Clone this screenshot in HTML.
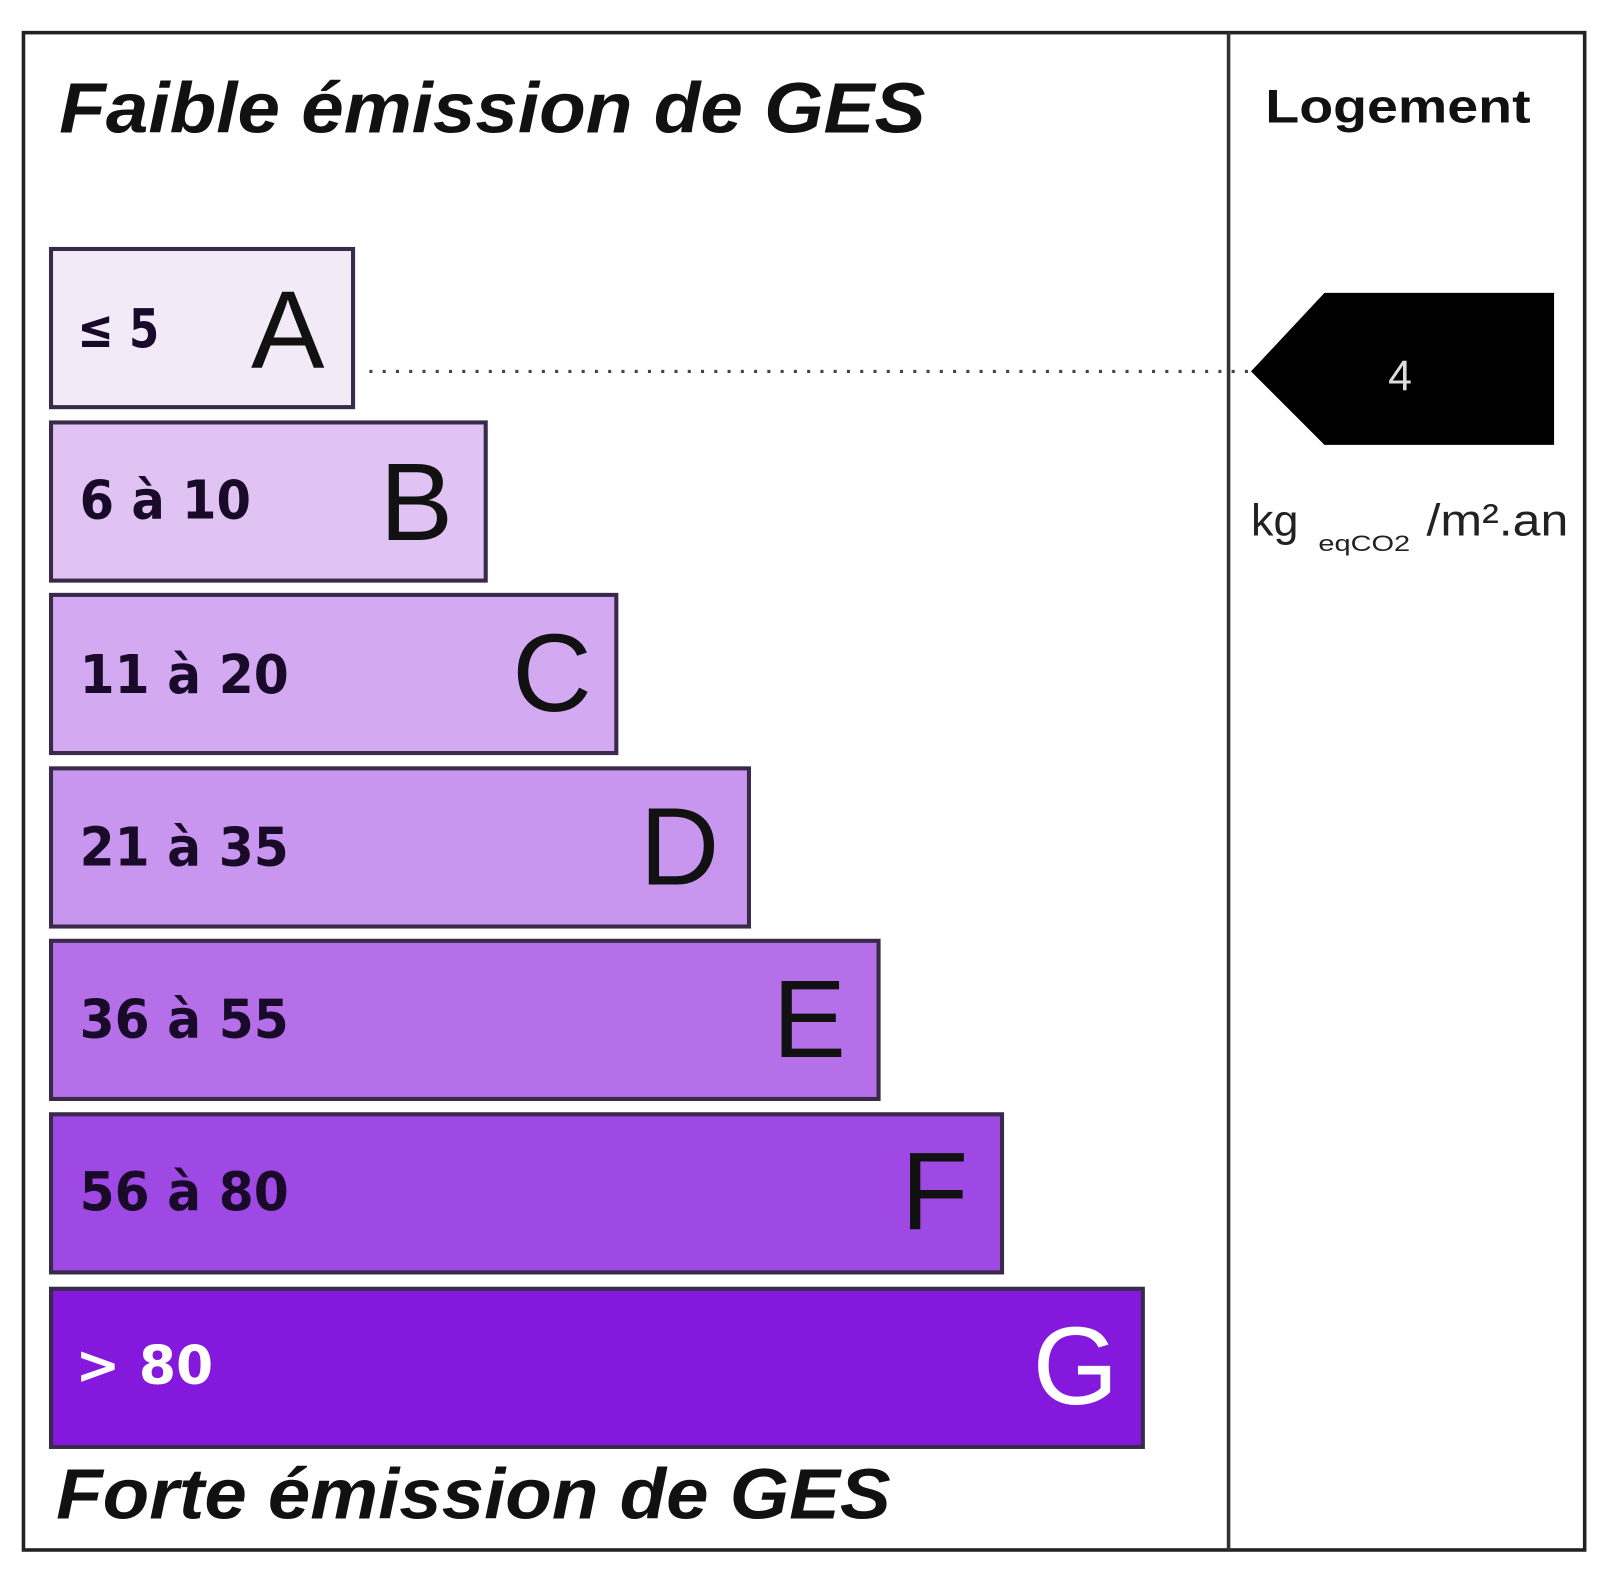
<!DOCTYPE html>
<html><head><meta charset="utf-8"><style>html,body{margin:0;padding:0;background:#fff;}svg{display:block;}</style></head>
<body>
<svg width="1600" height="1589" viewBox="0 0 1600 1589" xmlns="http://www.w3.org/2000/svg">
<rect x="0" y="0" width="1600" height="1589" fill="#fff"/>
<g transform="scale(1.0204)">
<rect x="23" y="32" width="1530" height="1487" fill="none" stroke="#222" stroke-width="3.5"/>
<line x1="1204" y1="32" x2="1204" y2="1519" stroke="#333" stroke-width="3.5"/>
<text x="58" y="130" font-family="Liberation Sans, sans-serif" font-weight="bold" font-style="italic" font-size="70" textLength="849" lengthAdjust="spacingAndGlyphs" fill="#111">Faible émission de GES</text>
<text x="55" y="1488" font-family="Liberation Sans, sans-serif" font-weight="bold" font-style="italic" font-size="70" textLength="818" lengthAdjust="spacingAndGlyphs" fill="#111">Forte émission de GES</text>
<text x="1240" y="120" font-family="Liberation Sans, sans-serif" font-weight="bold" font-size="46" textLength="260" lengthAdjust="spacingAndGlyphs" fill="#111">Logement</text>
<g stroke="#3a2a4a" stroke-width="4">
<rect x="50" y="244" width="296" height="155" fill="#f3eaf8"/>
<rect x="50" y="414" width="426" height="155" fill="#e0c2f3"/>
<rect x="50" y="583" width="554" height="155" fill="#d3a9f1"/>
<rect x="50" y="753" width="684" height="155" fill="#c896ee"/>
<rect x="50" y="922" width="811" height="155" fill="#b570e9"/>
<rect x="50" y="1092" width="932" height="155" fill="#9e49e3"/>
<rect x="50" y="1263" width="1070" height="155" fill="#8418dd"/>
</g>
<g font-family="DejaVu Sans, sans-serif" font-weight="bold" font-size="52" fill="#1a0a2a">
<text x="76" y="340" textLength="80" lengthAdjust="spacingAndGlyphs">≤ 5</text>
<text x="78" y="508" textLength="168" lengthAdjust="spacingAndGlyphs">6 à 10</text>
<text x="78" y="679" textLength="205" lengthAdjust="spacingAndGlyphs">11 à 20</text>
<text x="78" y="848" textLength="205" lengthAdjust="spacingAndGlyphs">21 à 35</text>
<text x="78" y="1017" textLength="205" lengthAdjust="spacingAndGlyphs">36 à 55</text>
<text x="78" y="1186" textLength="205" lengthAdjust="spacingAndGlyphs">56 à 80</text>
<text x="74" y="1356" textLength="135" lengthAdjust="spacingAndGlyphs" fill="#fff">&gt; 80</text>
</g>
<g font-family="Liberation Sans, sans-serif" font-size="108" fill="#111">
<text x="246" y="360">A</text>
<text x="372" y="529">B</text>
<text x="502" y="697">C</text>
<text x="627" y="867">D</text>
<text x="757" y="1036">E</text>
<text x="883" y="1205">F</text>
<text x="1012" y="1376" fill="#fff">G</text>
</g>
<line x1="362" y1="364" x2="1226" y2="364" stroke="#444" stroke-width="3" stroke-dasharray="3,10"/>
<polygon points="1226,364 1298,287 1523,287 1523,436 1298,436" fill="#000"/>
<text x="1372" y="382" text-anchor="middle" font-family="Liberation Sans, sans-serif" font-size="42" fill="#ddd">4</text>
<text x="1226" y="525" font-family="Liberation Sans, sans-serif" font-size="44" fill="#222">kg</text>
<text x="1292" y="540" font-family="Liberation Sans, sans-serif" font-size="22" textLength="90" lengthAdjust="spacingAndGlyphs" fill="#222">eqCO2</text>
<text x="1398" y="525" font-family="Liberation Sans, sans-serif" font-size="44" textLength="139" lengthAdjust="spacingAndGlyphs" fill="#222">/m².an</text>
</g>
</svg>
</body></html>
